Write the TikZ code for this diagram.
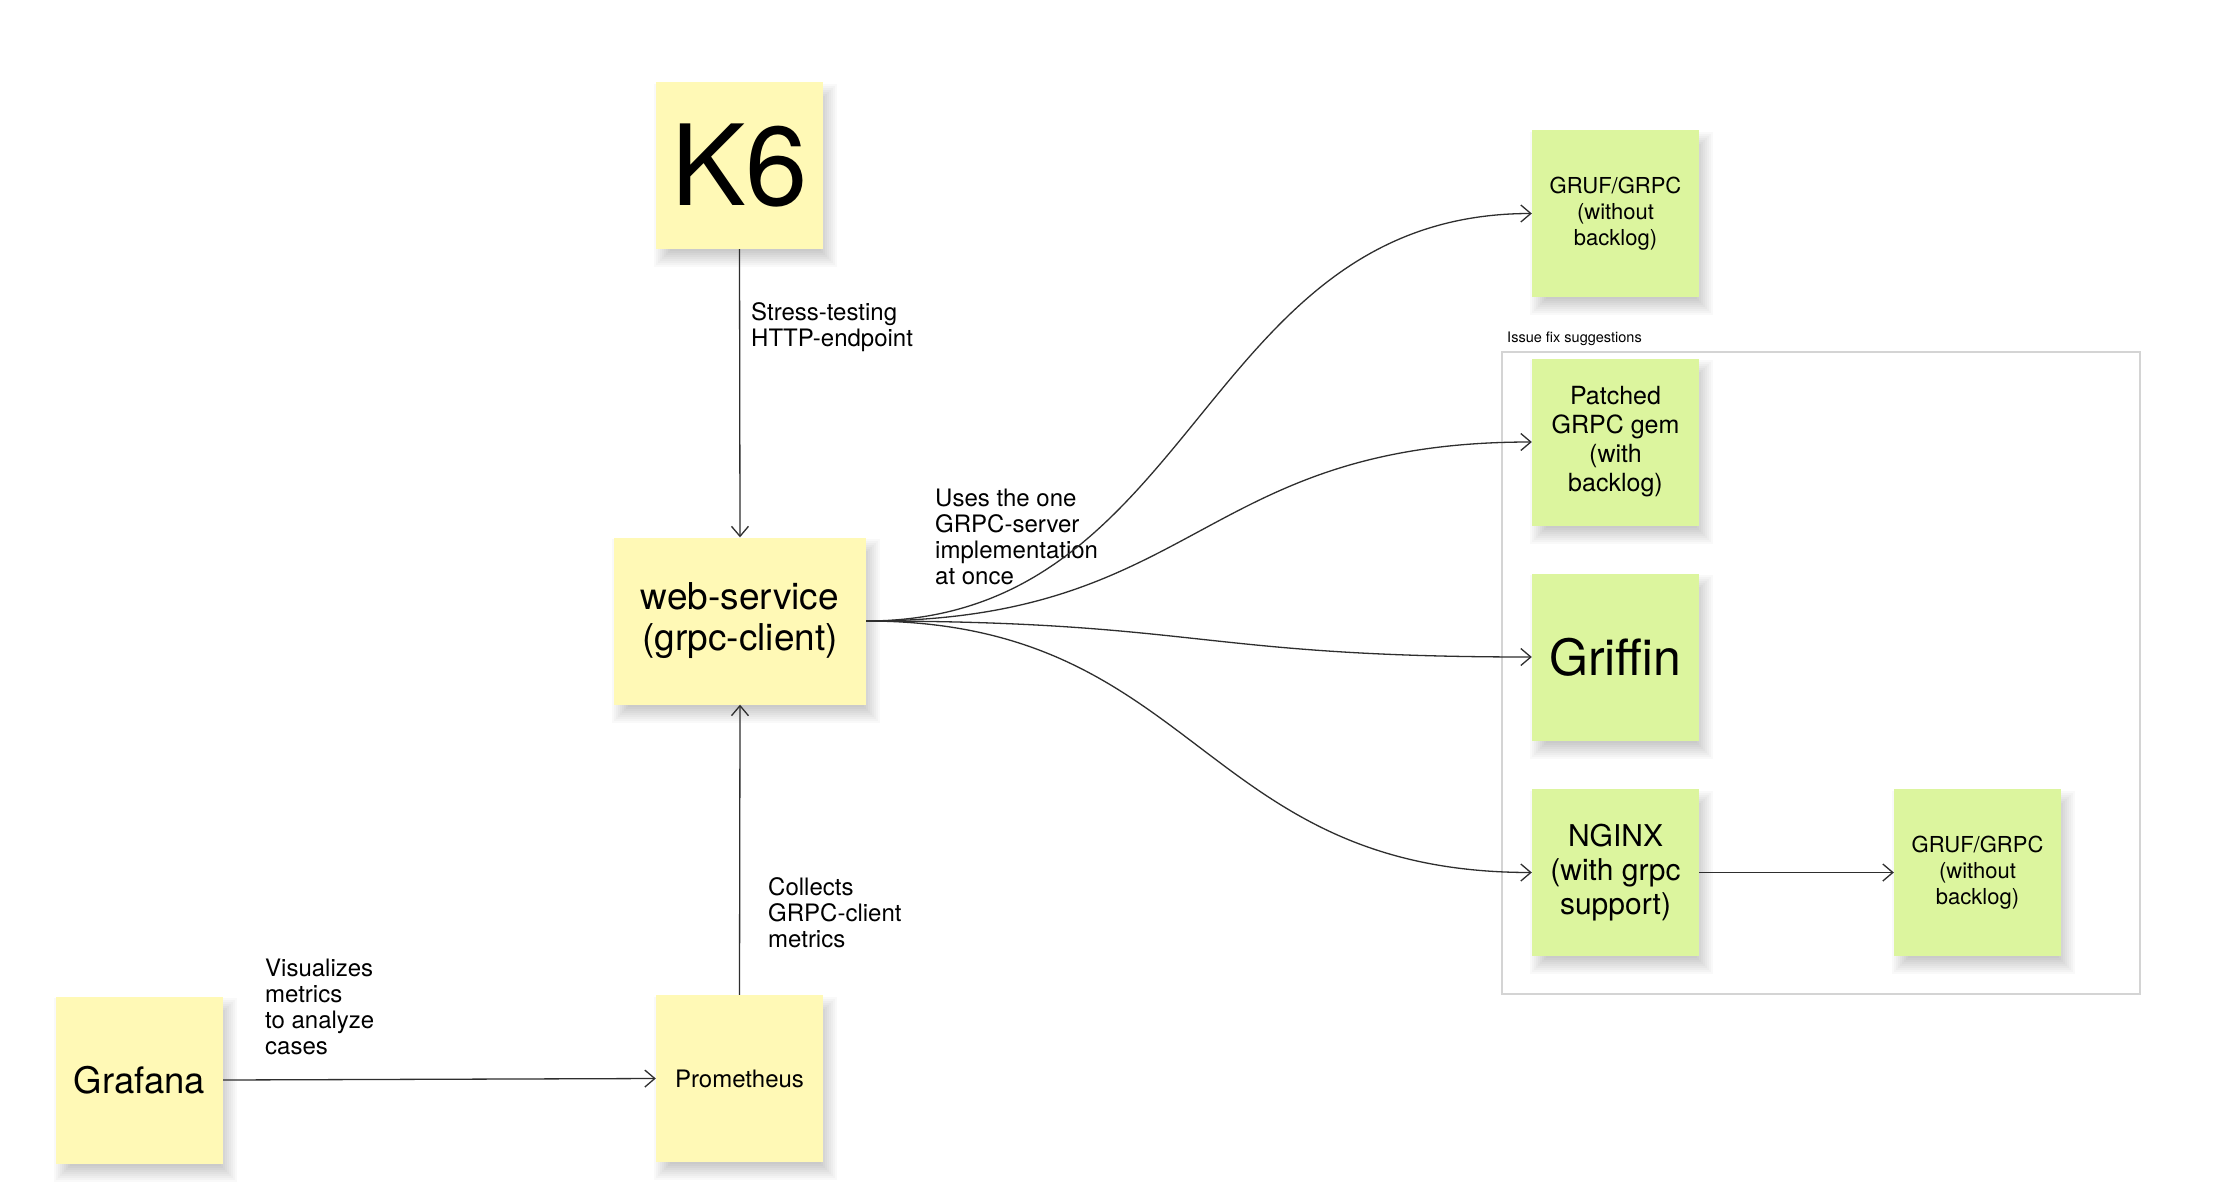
\documentclass[tikz,border=0pt]{standalone}
\usepackage{fontspec}
\setmainfont{TeX Gyre Heros}
\usetikzlibrary{arrows.meta}
\pgfdeclarelayer{paper}
\pgfdeclarelayer{shade}
\pgfsetlayers{paper,shade,main}
\definecolor{sticky}{HTML}{FFF9B6}
\definecolor{leaf}{HTML}{DCF59E}
\definecolor{framegray}{HTML}{D4D4D4}
\definecolor{wire}{HTML}{2E2E2E}
\tikzset{
  note/.style={rectangle, inner sep=0pt, minimum width=167pt, minimum height=167pt,
    align=center, text=black},
  ynote/.style={note, fill=sticky},
  gnote/.style={note, fill=leaf},
  shadowlayer/.style={fill=black, opacity=0.022},
  wirearrow/.style={draw=wire, line width=1.3pt, -{Straight Barb[length=10pt,width=17pt,line width=1.3pt]}},
  lbl/.style={anchor=north west, inner sep=0pt, align=left, font=\fontsize{24}{26}\selectfont}
}
\begin{document}
\begin{tikzpicture}[x=1pt,y=-1pt]
\begin{pgfonlayer}{paper}
\fill[white] (0,0) rectangle (2218,1196);
\end{pgfonlayer}
\useasboundingbox (0,0) rectangle (2218,1196);

% frame
\node[draw=framegray, line width=1.5pt, minimum width=638pt, minimum height=642pt, inner sep=0pt] (frame) at (1821,673) {};
\node[anchor=north west, inner sep=0pt, font=\fontsize{14.5}{17}\selectfont] (framelbl) at (1507,332) {Issue fix suggestions};

% yellow notes
\node[ynote, font=\fontsize{112}{120}\selectfont] (k6) at (739.5,165.5) {K6};
\node[ynote, minimum width=252pt, font=\fontsize{37}{41}\selectfont] (web) at (740,621) {web-service\\(grpc-client)};
\node[ynote, font=\fontsize{24}{28}\selectfont] (prom) at (739.5,1078.5) {Prometheus};
\node[ynote, font=\fontsize{36.5}{40}\selectfont] (graf) at (139.5,1080) {Grafana};

% green notes
\node[gnote, font=\fontsize{22}{26}\selectfont] (gruf1) at (1615.5,213.5) {GRUF/GRPC\\(without\\backlog)};
\node[gnote, font=\fontsize{25}{29}\selectfont] (patched) at (1615.5,442) {Patched\\GRPC gem\\(with\\backlog)};
\node[gnote, font=\fontsize{50}{56}\selectfont] (griffin) at (1615.5,657) {Griffin};
\node[gnote, font=\fontsize{30}{34}\selectfont] (nginx) at (1615.5,872.5) {NGINX\\(with grpc\\support)};
\node[gnote, font=\fontsize{22}{26}\selectfont] (gruf2) at (1977.5,872.5) {GRUF/GRPC\\(without\\backlog)};

% soft shadows under the notes
\begin{pgfonlayer}{shade}
\foreach \n in {k6,web,prom,graf,gruf1,patched,griffin,nginx,gruf2}{
  \foreach \r in {-8,-6,...,8}{
    \fill[shadowlayer] ([shift={(6-\r,10-\r)}]\n.north west) rectangle ([shift={(6+\r,10+\r)}]\n.south east);
  }
}
\end{pgfonlayer}

% labels
\node[lbl] (lstress) at (751,302) {Stress-testing\\HTTP-endpoint};
\node[lbl] (luses) at (935,489) {Uses the one\\GRPC-server\\implementation\\at once};
\node[lbl] (lcollect) at (768,877) {Collects\\GRPC-client\\metrics};
\node[lbl] (lvis) at (265,959) {Visualizes\\metrics\\to analyze\\cases};

% connectors
\draw[wirearrow] (k6.south) -- (web.north);
\draw[wirearrow] (prom.north) -- (web.south);
\draw[wirearrow] (graf.east) -- (prom.west);
\draw[wirearrow] (web.east) .. controls +(333,0) and +(-333,0) .. (gruf1.west);
\draw[wirearrow] (web.east) .. controls +(333,0) and +(-333,0) .. (patched.west);
\draw[wirearrow] (web.east) .. controls +(333,0) and +(-333,0) .. (griffin.west);
\draw[wirearrow] (web.east) .. controls +(333,0) and +(-333,0) .. (nginx.west);
\draw[wirearrow] (nginx.east) -- (gruf2.west);
\end{tikzpicture}
\end{document}
